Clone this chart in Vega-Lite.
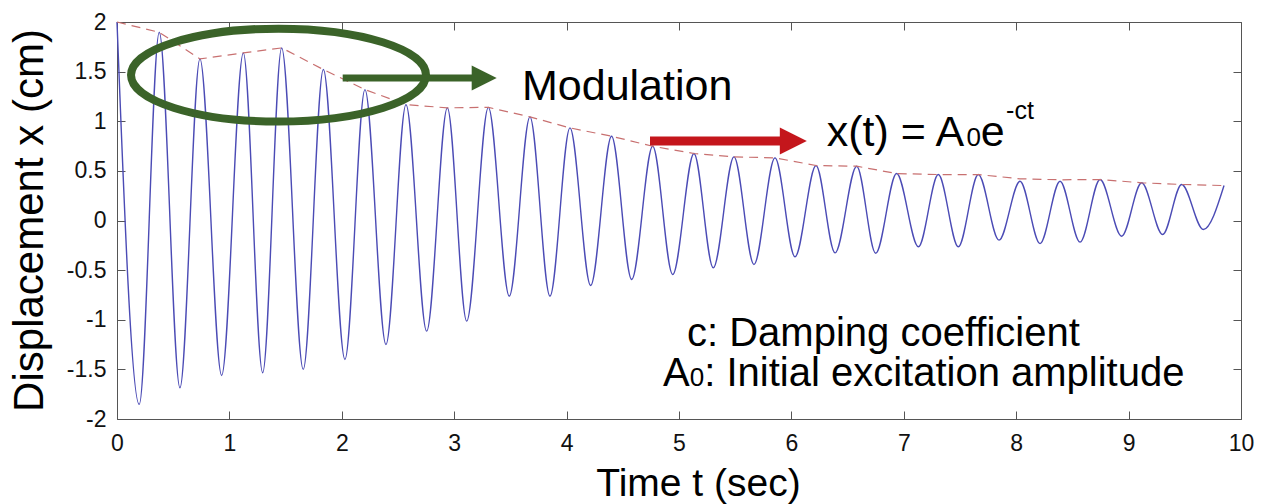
{
  "$schema": "https://vega.github.io/schema/vega-lite/v6.json",
  "width": 1124,
  "height": 397,
  "autosize": {"type": "none"},
  "padding": {"left": 117, "top": 22, "right": 27, "bottom": 85},
  "background": "white",
  "config": {
    "view": {"stroke": "#555555", "strokeWidth": 1},
    "axis": {
      "grid": false,
      "domain": false,
      "ticks": true,
      "tickColor": "#555555",
      "tickWidth": 1,
      "tickSize": 8,
      "offset": -8,
      "zindex": 1,
      "labelFont": "Liberation Sans",
      "labelFontSize": 23,
      "labelColor": "#111111",
      "titleFont": "Liberation Sans",
      "titleFontWeight": "normal",
      "titleColor": "#000000"
    },
    "text": {"font": "Liberation Sans", "color": "#000000", "baseline": "alphabetic", "align": "left"}
  },
  "datasets": {
    "wave": [
      {"t": 0.0, "v": 2.0}, {"t": 0.198, "v": -1.853}, {"t": 0.376, "v": 1.896}, {"t": 0.56, "v": -1.685},
      {"t": 0.738, "v": 1.628}, {"t": 0.931, "v": -1.561}, {"t": 1.124, "v": 1.689}, {"t": 1.296, "v": -1.534},
      {"t": 1.465, "v": 1.739}, {"t": 1.657, "v": -1.5}, {"t": 1.836, "v": 1.521}, {"t": 2.028, "v": -1.4},
      {"t": 2.206, "v": 1.319}, {"t": 2.393, "v": -1.249}, {"t": 2.571, "v": 1.168}, {"t": 2.755, "v": -1.115},
      {"t": 2.939, "v": 1.135}, {"t": 3.111, "v": -1.014}, {"t": 3.304, "v": 1.14}, {"t": 3.49, "v": -0.762},
      {"t": 3.674, "v": 1.044}, {"t": 3.852, "v": -0.762}, {"t": 4.03, "v": 0.933}, {"t": 4.214, "v": -0.655},
      {"t": 4.4, "v": 0.849}, {"t": 4.579, "v": -0.594}, {"t": 4.766, "v": 0.748}, {"t": 4.944, "v": -0.544},
      {"t": 5.133, "v": 0.675}, {"t": 5.305, "v": -0.477}, {"t": 5.489, "v": 0.641}, {"t": 5.667, "v": -0.443},
      {"t": 5.854, "v": 0.631}, {"t": 6.032, "v": -0.366}, {"t": 6.219, "v": 0.554}, {"t": 6.388, "v": -0.326},
      {"t": 6.581, "v": 0.547}, {"t": 6.75, "v": -0.33}, {"t": 6.936, "v": 0.473}, {"t": 7.13, "v": -0.265},
      {"t": 7.307, "v": 0.463}, {"t": 7.485, "v": -0.265}, {"t": 7.663, "v": 0.463}, {"t": 7.847, "v": -0.198},
      {"t": 8.034, "v": 0.396}, {"t": 8.212, "v": -0.232}, {"t": 8.39, "v": 0.396}, {"t": 8.568, "v": -0.218},
      {"t": 8.746, "v": 0.413}, {"t": 8.938, "v": -0.158}, {"t": 9.116, "v": 0.38}, {"t": 9.303, "v": -0.141},
      {"t": 9.472, "v": 0.363}, {"t": 9.665, "v": -0.091}, {"t": 9.849, "v": 0.352}
    ],
    "envelope": [
      {"t": 0.0, "v": 2.0}, {"t": 0.376, "v": 1.896}, {"t": 0.738, "v": 1.628}, {"t": 1.124, "v": 1.689},
      {"t": 1.465, "v": 1.739}, {"t": 1.836, "v": 1.521}, {"t": 2.206, "v": 1.319}, {"t": 2.571, "v": 1.168},
      {"t": 2.939, "v": 1.135}, {"t": 3.304, "v": 1.14}, {"t": 3.674, "v": 1.044}, {"t": 4.03, "v": 0.933},
      {"t": 4.4, "v": 0.849}, {"t": 4.766, "v": 0.748}, {"t": 5.133, "v": 0.675}, {"t": 5.489, "v": 0.641},
      {"t": 5.854, "v": 0.631}, {"t": 6.219, "v": 0.554}, {"t": 6.581, "v": 0.547}, {"t": 6.936, "v": 0.473},
      {"t": 7.307, "v": 0.463}, {"t": 7.663, "v": 0.463}, {"t": 8.034, "v": 0.42}, {"t": 8.39, "v": 0.41},
      {"t": 8.746, "v": 0.413}, {"t": 9.116, "v": 0.38}, {"t": 9.472, "v": 0.363}, {"t": 9.849, "v": 0.352}
    ]
  },
  "resolve": {"axis": {"x": "independent", "y": "independent"}},
  "layer": [
    {
      "data": {"name": "wave"},
      "mark": {"type": "line", "interpolate": "monotone", "color": "#4b4bb5", "strokeWidth": 1.4},
      "encoding": {
        "x": {
          "field": "t", "type": "quantitative",
          "scale": {"domain": [0, 10], "nice": false, "zero": false},
          "axis": {
            "orient": "bottom", "values": [0, 1, 2, 3, 4, 5, 6, 7, 8, 9, 10],
            "labelPadding": 13, "labelFlush": false, "labelExpr": "toString(datum.value)",
            "title": "Time t (sec)", "titleFontSize": 39,
            "titleX": 581, "titleY": 84, "titleAlign": "center", "titleBaseline": "alphabetic"
          }
        },
        "y": {
          "field": "v", "type": "quantitative",
          "scale": {"domain": [-2, 2], "nice": false, "zero": false},
          "axis": {
            "orient": "left", "values": [-2, -1.5, -1, -0.5, 0, 0.5, 1, 1.5, 2],
            "labelPadding": 11, "labelFlush": false, "labelExpr": "toString(datum.value)",
            "title": "Displacement x (cm)", "titleFontSize": 42, "titleAngle": -90,
            "titleX": -83, "titleY": 198, "titleAlign": "center", "titleBaseline": "alphabetic"
          }
        }
      }
    },
    {
      "data": {"name": "envelope"},
      "mark": {"type": "line", "color": "#c87070", "strokeWidth": 1.2, "strokeDash": [9, 6]},
      "encoding": {
        "x": {
          "field": "t", "type": "quantitative",
          "axis": {"orient": "top", "values": [0, 1, 2, 3, 4, 5, 6, 7, 8, 9, 10], "labels": false, "title": null}
        },
        "y": {
          "field": "v", "type": "quantitative",
          "axis": {"orient": "right", "values": [-2, -1.5, -1, -0.5, 0, 0.5, 1, 1.5, 2], "labels": false, "title": null}
        }
      }
    },
    {
      "data": {"values": [{"t": 1.437, "v": 1.465}]},
      "mark": {
        "type": "point",
        "shape": "M-1,0C-1,-0.174,-0.5523,-0.315,0,-0.315C0.5523,-0.315,1,-0.174,1,0C1,0.174,0.5523,0.315,0,0.315C-0.5523,0.315,-1,0.174,-1,0Z",
        "size": 87025, "filled": false, "stroke": "#3b6329", "strokeWidth": 8, "opacity": 1
      },
      "encoding": {
        "x": {"field": "t", "type": "quantitative", "axis": null},
        "y": {"field": "v", "type": "quantitative", "axis": null}
      }
    },
    {
      "data": {"values": [{"t": 2.008, "t2": 3.17, "v": 1.437}]},
      "mark": {"type": "rule", "color": "#3b6329", "strokeWidth": 7, "strokeCap": "butt"},
      "encoding": {
        "x": {"field": "t", "type": "quantitative", "axis": null},
        "x2": {"field": "t2"},
        "y": {"field": "v", "type": "quantitative", "axis": null}
      }
    },
    {
      "data": {"values": [{"t": 3.267, "v": 1.437}]},
      "mark": {"type": "point", "shape": "M-1,-1L1,0L-1,1Z", "size": 625, "filled": true, "color": "#3b6329", "opacity": 1},
      "encoding": {
        "x": {"field": "t", "type": "quantitative", "axis": null},
        "y": {"field": "v", "type": "quantitative", "axis": null}
      }
    },
    {
      "data": {"values": [{"t": 4.742, "t2": 5.91, "v": 0.8}]},
      "mark": {"type": "rule", "color": "#c4161c", "strokeWidth": 9, "strokeCap": "butt"},
      "encoding": {
        "x": {"field": "t", "type": "quantitative", "axis": null},
        "x2": {"field": "t2"},
        "y": {"field": "v", "type": "quantitative", "axis": null}
      }
    },
    {
      "data": {"values": [{"t": 6.017, "v": 0.8}]},
      "mark": {"type": "point", "shape": "M-1,-1L1,0L-1,1Z", "size": 729, "filled": true, "color": "#c4161c", "opacity": 1},
      "encoding": {
        "x": {"field": "t", "type": "quantitative", "axis": null},
        "y": {"field": "v", "type": "quantitative", "axis": null}
      }
    },
    {
      "data": {"values": [
        {"t": 3.603, "v": 1.2185, "label": "Modulation"},
        {"t": 6.314, "v": 0.748, "label": "x(t) = A"},
        {"t": 7.685, "v": 0.748, "label": "e"}
      ]},
      "mark": {"type": "text", "fontSize": 43},
      "encoding": {
        "x": {"field": "t", "type": "quantitative", "axis": null},
        "y": {"field": "v", "type": "quantitative", "axis": null},
        "text": {"field": "label"}
      }
    },
    {
      "data": {"values": [
        {"t": 7.558, "v": 0.748, "label": "0"},
        {"t": 5.095, "v": -1.672, "label": "0"}
      ]},
      "mark": {"type": "text", "fontSize": 26},
      "encoding": {
        "x": {"field": "t", "type": "quantitative", "axis": null},
        "y": {"field": "v", "type": "quantitative", "axis": null},
        "text": {"field": "label"}
      }
    },
    {
      "data": {"values": [{"t": 7.91, "v": 1.027, "label": "-ct"}]},
      "mark": {"type": "text", "fontSize": 25},
      "encoding": {
        "x": {"field": "t", "type": "quantitative", "axis": null},
        "y": {"field": "v", "type": "quantitative", "axis": null},
        "text": {"field": "label"}
      }
    },
    {
      "data": {"values": [
        {"t": 5.071, "v": -1.269, "label": "c: Damping coefficient"},
        {"t": 4.858, "v": -1.672, "label": "A"},
        {"t": 5.224, "v": -1.672, "label": ": Initial excitation amplitude"}
      ]},
      "mark": {"type": "text", "fontSize": 40},
      "encoding": {
        "x": {"field": "t", "type": "quantitative", "axis": null},
        "y": {"field": "v", "type": "quantitative", "axis": null},
        "text": {"field": "label"}
      }
    }
  ]
}
